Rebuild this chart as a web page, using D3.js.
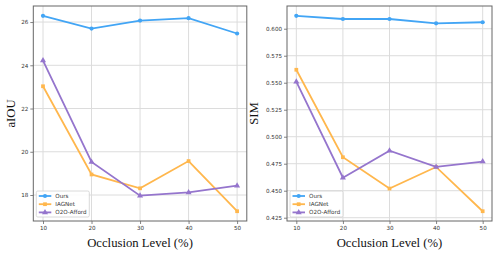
<!DOCTYPE html>
<html>
<head>
<meta charset="utf-8">
<script src="https://cdn.jsdelivr.net/npm/d3@7"></script>
<style>
body { margin: 0; background: #fff; }
svg { display: block; }
.tick text { font-family: "DejaVu Sans", sans-serif; font-size: 5.6px; fill: #333; }
</style>
</head>
<body>
<script>
// occlusion levels on the x axis
var levels = [10, 20, 30, 40, 50];
var seriesNames = ["Ours", "IAGNet", "O2O-Afford"];

// aIOU panel
var aiouOurs = [26.29, 25.70, 26.07, 26.18, 25.47];
var aiouIAG  = [23.03, 18.95, 18.31, 19.57, 17.25];
var aiouO2O  = [24.22, 19.53, 17.97, 18.12, 18.43];
var aiouTicks = [18, 20, 22, 24, 26];

// SIM panel
var simOurs = [0.612, 0.609, 0.609, 0.605, 0.606];
var simIAG  = [0.562, 0.481, 0.452, 0.472, 0.431];
var simO2O  = [0.551, 0.462, 0.487, 0.472, 0.477];
var simTicks = [0.425, 0.450, 0.475, 0.500, 0.525, 0.550, 0.575, 0.600];

var colors = ["#42a5f5", "#ffb74d", "#9575cd"];
var symbols = [d3.symbolCircle, d3.symbolSquare, d3.symbolTriangle];
var symSizes = [14, 14, 16];

var width = 498, height = 258;
var svg = d3.select("body").append("svg")
	.attr("width", width)
	.attr("height", height);

function panel(box, series, ticks, fmt, label, labelX) {
	var x = d3.scaleLinear().domain([8, 52]).range([box.left, box.right]);
	var all = [].concat(series[0], series[1], series[2]);
	var lo = d3.min(all), hi = d3.max(all), pad = (hi - lo) * 0.05;
	var y = d3.scaleLinear().domain([lo - pad, hi + pad]).range([box.bottom, box.top]);

	var g = svg.append("g");

	// grid
	g.append("g").selectAll("line").data(levels).enter().append("line")
		.attr("x1", d => x(d)).attr("x2", d => x(d))
		.attr("y1", box.top).attr("y2", box.bottom)
		.attr("stroke", "#dcdcdc").attr("stroke-width", 1);
	g.append("g").selectAll("line").data(ticks).enter().append("line")
		.attr("x1", box.left).attr("x2", box.right)
		.attr("y1", d => y(d)).attr("y2", d => y(d))
		.attr("stroke", "#dcdcdc").attr("stroke-width", 1);

	// axes
	var xa = g.append("g")
		.attr("transform", "translate(0," + box.bottom + ")")
		.call(d3.axisBottom(x).tickValues(levels).tickSize(3).tickPadding(2));
	var ya = g.append("g")
		.attr("transform", "translate(" + box.left + ",0)")
		.call(d3.axisLeft(y).tickValues(ticks).tickFormat(fmt).tickSize(3).tickPadding(2));
	[xa, ya].forEach(a => {
		a.select(".domain").remove();
		a.selectAll(".tick line").attr("stroke", "#666").attr("stroke-width", 0.8);
	});

	// lines
	var line = d3.line().x((d, i) => x(levels[i])).y(d => y(d));
	series.forEach((s, k) => {
		g.append("path").datum(s)
			.attr("d", line)
			.attr("fill", "none")
			.attr("stroke", colors[k])
			.attr("stroke-width", 1.8);
		g.append("g").selectAll("path").data(s).enter().append("path")
			.attr("d", d3.symbol().type(symbols[k]).size(symSizes[k]))
			.attr("transform", (d, i) => "translate(" + x(levels[i]) + "," + y(d) + ")")
			.attr("fill", colors[k]);
	});

	// frame
	g.append("rect")
		.attr("x", box.left).attr("y", box.top)
		.attr("width", box.right - box.left).attr("height", box.bottom - box.top)
		.attr("fill", "none").attr("stroke", "#666").attr("stroke-width", 1);

	// legend
	var lg = g.append("g").attr("transform", "translate(" + (box.left + 3) + "," + (box.bottom - 30) + ")");
	lg.append("rect")
		.attr("width", 53).attr("height", 26).attr("rx", 1.5)
		.attr("fill", "#fff").attr("fill-opacity", 0.85)
		.attr("stroke", "#d0d0d0").attr("stroke-width", 0.8);
	seriesNames.forEach((n, k) => {
		var yy = 5 + k * 8.2;
		lg.append("line").attr("x1", 2.5).attr("x2", 15).attr("y1", yy).attr("y2", yy)
			.attr("stroke", colors[k]).attr("stroke-width", 1.8);
		lg.append("path")
			.attr("d", d3.symbol().type(symbols[k]).size(symSizes[k]))
			.attr("transform", "translate(8.7," + yy + ")")
			.attr("fill", colors[k]);
		lg.append("text").attr("x", 19).attr("y", yy + 2)
			.attr("font-family", "DejaVu Sans, sans-serif")
			.attr("font-size", "5.6px").attr("fill", "#333")
			.text(n);
	});

	// axis labels
	g.append("text")
		.attr("x", (box.left + box.right) / 2).attr("y", 247)
		.attr("text-anchor", "middle")
		.attr("font-family", "Liberation Serif, Times New Roman, serif")
		.attr("font-size", "12.7px").attr("fill", "#111")
		.text("Occlusion Level (%)");
	g.append("text")
		.attr("transform", "translate(" + labelX + "," + ((box.top + box.bottom) / 2) + ") rotate(-90)")
		.attr("text-anchor", "middle")
		.attr("font-family", "Liberation Serif, Times New Roman, serif")
		.attr("font-size", "12.7px").attr("fill", "#111")
		.text(label);
}

panel({left: 33.3, right: 246.8, top: 6, bottom: 221},
	[aiouOurs, aiouIAG, aiouO2O], aiouTicks, d3.format("d"), "aIOU", 14.5);
panel({left: 287, right: 492, top: 6, bottom: 221},
	[simOurs, simIAG, simO2O], simTicks, d3.format(".3f"), "SIM", 258);
</script>
</body>
</html>
